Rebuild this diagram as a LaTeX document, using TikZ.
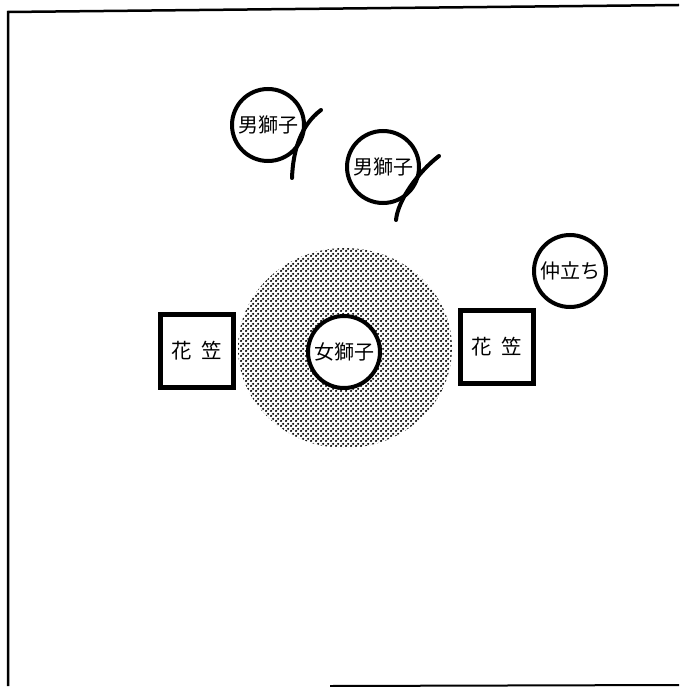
\documentclass[tikz,border=0pt]{standalone}
\usepackage{fontspec}
\newfontfamily\jp{Noto Sans CJK JP}
\usetikzlibrary{patterns.meta}
\tikzdeclarepattern{name=halftone,type=uncolored,
  bounding box={(0pt,0pt) and (5pt,5pt)},tile size={(5pt,5pt)},
  code={\fill (1.25pt,1.25pt) circle (1.45pt); \fill (3.75pt,3.75pt) circle (1.45pt);}}
\begin{document}
\begin{tikzpicture}[x=1pt,y=-1pt,
  person/.style={draw=black,line width=4pt,circle,minimum size=72pt,inner sep=0pt,font=\jp\fontsize{20}{20}\selectfont},
  hat/.style={draw=black,line width=5pt,minimum size=73pt,inner sep=0pt,font=\jp\fontsize{20.5}{20.5}\selectfont},
  tail/.style={line width=4pt,line cap=round}]
\useasboundingbox (0,0) rectangle (679,687);
\fill[white] (0,0) rectangle (679,687);
% frame
\draw[line width=2.5pt] (8,686) -- (8,12) -- (679,5);
\draw[line width=2pt] (330,686) -- (679,685);
% stage area
\fill[pattern=halftone,pattern color=black] (345,348) ellipse [x radius=107,y radius=100];
\node[person,fill=white] (onna) at (344,352) {女獅子};
\node[hat,fill=white] (hl) at (197,351) {花\hspace{0.45em}笠};
\node[hat,fill=white] (hr) at (497,347) {花\hspace{0.45em}笠};
\node[person] (naka) at (570,271) {仲立ち};
\node[person] (o1) at (268,125) {男獅子};
\node[person] (o2) at (383,167) {男獅子};
\draw[tail] (321,110) .. controls (301,125) and (293,150) .. (292,178);
\draw[tail] (439,156) .. controls (418,172) and (398,200) .. (396,220);
\end{tikzpicture}
\end{document}
